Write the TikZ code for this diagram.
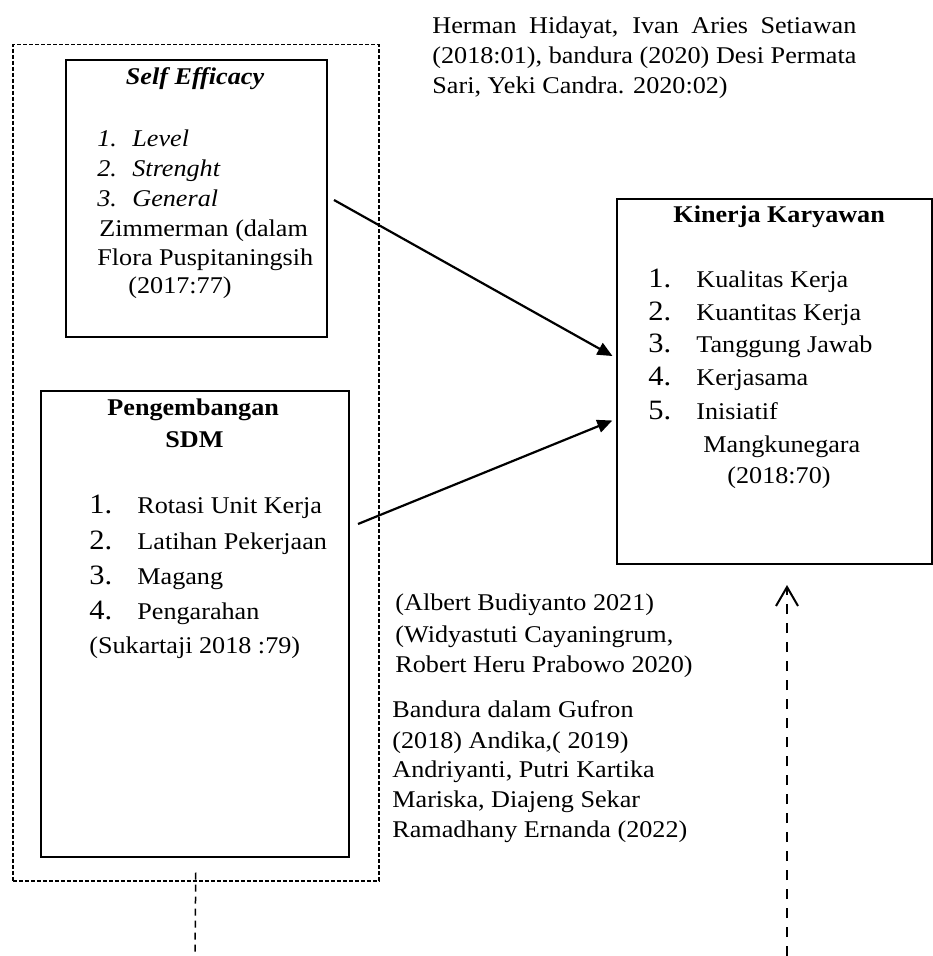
\documentclass[tikz,border=0pt]{standalone}
\usepackage{fontspec}
\setmainfont{Liberation Serif}[FakeStretch=1.09]
\usetikzlibrary{arrows.meta}
\begin{document}
\begin{tikzpicture}[x=0.5pt,y=-0.5pt,
  txt/.style={inner sep=0pt, anchor=base west, font=\fontsize{12}{14}\selectfont},
  ctxt/.style={txt, anchor=base},
  num/.style={inner sep=0pt, anchor=base west, font=\fontsize{14}{16}\selectfont},
  solidbox/.style={draw, line width=1pt, inner sep=0pt, anchor=north west},
  outerbox/.style={draw, line width=0.75pt, dash pattern=on 2pt off 1pt, inner sep=0pt, anchor=north west},
  arr/.style={line width=1.1pt, -{Triangle[length=7.5pt,width=6.5pt]}},
  vdash/.style={line width=0.75pt, dash pattern=on 3.5pt off 2.5pt},
  vdasharr/.style={line width=1pt, dash pattern=on 5pt off 4.5pt, -{Straight Barb[length=9.5pt,width=11pt]}}
]
\useasboundingbox (0,0) rectangle (932,956);

% boxes
\node[outerbox, minimum width=183pt, minimum height=418pt] (outer) at (12,44) {};
\node[solidbox, minimum width=130.5pt, minimum height=138.5pt] (se) at (65,59) {};
\node[solidbox, minimum width=154pt, minimum height=233pt] (sdm) at (40,390) {};
\node[solidbox, minimum width=157.5pt, minimum height=182.5pt] (kk) at (616,198) {};

% top reference text
\node[txt] (r1) at (432,34) {\makebox[212pt][s]{Herman Hidayat, Ivan Aries Setiawan}};
\node[txt] (r2) at (432,64) {\makebox[212pt][s]{(2018:01), bandura (2020) Desi Permata}};
\node[txt] (r3) at (432,94) {Sari, Yeki Candra. 2020:02)};

% Self Efficacy
\node[ctxt, font=\fontsize{12}{14}\selectfont\bfseries\itshape] (seT) at (195,85) {Self Efficacy};
\node[txt, font=\fontsize{12}{14}\selectfont\itshape] (se1n) at (97,147) {1.};
\node[txt, font=\fontsize{12}{14}\selectfont\itshape] (se1) at (132,147) {Level};
\node[txt, font=\fontsize{12}{14}\selectfont\itshape] (se2n) at (97,177) {2.};
\node[txt, font=\fontsize{12}{14}\selectfont\itshape] (se2) at (132,177) {Strenght};
\node[txt, font=\fontsize{12}{14}\selectfont\itshape] (se3n) at (97,207) {3.};
\node[txt, font=\fontsize{12}{14}\selectfont\itshape] (se3) at (132,207) {General};
\node[txt] (se4) at (99,237) {Zimmerman (dalam};
\node[txt] (se5) at (97,266) {Flora Puspitaningsih};
\node[txt] (se6) at (128,294) {(2017:77)};

% Pengembangan SDM
\node[txt, font=\fontsize{12}{14}\selectfont\bfseries] (sdmT1) at (107,415) {Pengembangan};
\node[txt, font=\fontsize{12}{14}\selectfont\bfseries] (sdmT2) at (165,447) {SDM};
\node[num] (sdm1n) at (89,513) {1.};
\node[txt] (sdm1) at (137,513) {Rotasi Unit Kerja};
\node[num] (sdm2n) at (89,549) {2.};
\node[txt] (sdm2) at (137,549) {Latihan Pekerjaan};
\node[num] (sdm3n) at (89,584) {3.};
\node[txt] (sdm3) at (137,584) {Magang};
\node[num] (sdm4n) at (89,619) {4.};
\node[txt] (sdm4) at (137,619) {Pengarahan};
\node[txt] (sdm5) at (89,653) {(Sukartaji 2018 :79)};

% Kinerja Karyawan
\node[txt, font=\fontsize{12}{14}\selectfont\bfseries] (kkT) at (673,223) {Kinerja Karyawan};
\node[num] (kk1n) at (648,288) {1.};
\node[txt] (kk1) at (696,288) {Kualitas Kerja};
\node[num] (kk2n) at (648,321) {2.};
\node[txt] (kk2) at (696,321) {Kuantitas Kerja};
\node[num] (kk3n) at (648,353) {3.};
\node[txt] (kk3) at (696,353) {Tanggung Jawab};
\node[num] (kk4n) at (648,386) {4.};
\node[txt] (kk4) at (696,386) {Kerjasama};
\node[num] (kk5n) at (648,419) {5.};
\node[txt] (kk5) at (696,419) {Inisiatif};
\node[txt] (kk6) at (703,452) {Mangkunegara};
\node[txt] (kk7) at (727,483) {(2018:70)};

% lower references
\node[txt] (m1) at (395,610) {(Albert Budiyanto 2021)};
\node[txt] (m2) at (395,642) {(Widyastuti Cayaningrum,};
\node[txt] (m3) at (395,672) {Robert Heru Prabowo 2020)};
\node[txt] (b1) at (392,717) {Bandura dalam Gufron};
\node[txt] (b2) at (392,748) {(2018) Andika,( 2019)};
\node[txt] (b3) at (392,777) {Andriyanti, Putri Kartika};
\node[txt] (b4) at (392,807) {Mariska, Diajeng Sekar};
\node[txt] (b5) at (392,837) {Ramadhany Ernanda (2022)};

% connectors
\coordinate (a1s) at (334,200);
\coordinate (a2s) at (358,524);
\draw[arr, shorten >=2pt] (a1s) -- ([yshift=11.75pt]kk.west);
\draw[arr, shorten >=2pt] (a2s) -- ([yshift=-18.75pt]kk.west);

\coordinate (bl) at (195,956);
\draw[vdash] ([yshift=4.5pt]outer.south) -- (bl);

\coordinate (br) at (787,956);
\coordinate (rtip) at (787,585);
\draw[vdasharr] (br) -- (rtip);
\end{tikzpicture}
\end{document}
